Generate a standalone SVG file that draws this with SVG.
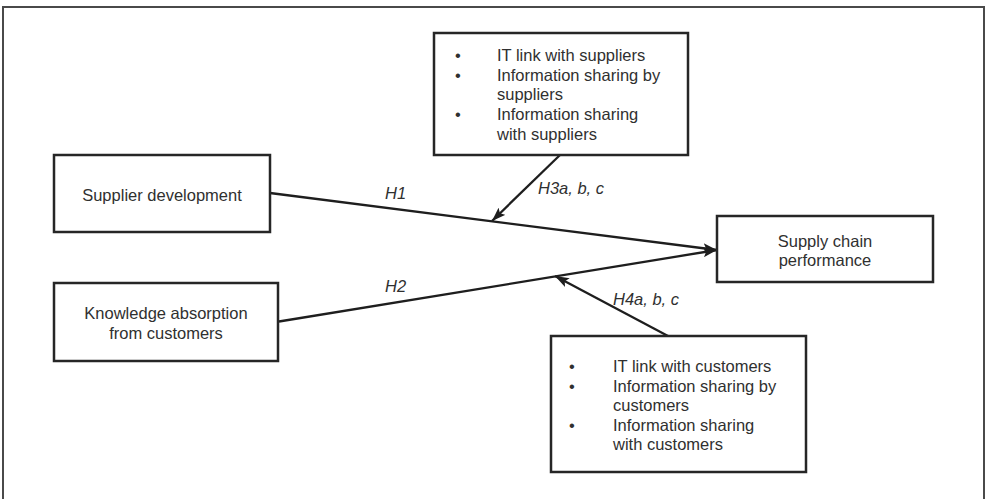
<svg xmlns="http://www.w3.org/2000/svg" width="986" height="499" viewBox="0 0 986 499">
  <defs>
    <marker id="arrow" viewBox="0 0 14 10" refX="14" refY="5" markerWidth="14" markerHeight="10" markerUnits="userSpaceOnUse" orient="auto">
      <path d="M0,0 L14,5 L0,10 L3,5 Z" fill="#1e1e1e"/>
    </marker>
    <style>
      .frame { fill: none; stroke: #4a4a4a; stroke-width: 2; }
      .box { fill: #ffffff; stroke: #262626; stroke-width: 2.5; }
      .txt { font-family: "Liberation Sans", Arial, sans-serif; font-size: 16.5px; fill: #303030; }
      .mid { text-anchor: middle; }
      .lbl { font-family: "Liberation Sans", Arial, sans-serif; font-size: 16.5px; font-style: italic; fill: #303030; }
      .edge { fill: none; stroke: #1e1e1e; stroke-width: 2.3; marker-end: url(#arrow); }
    </style>
  </defs>

  <rect width="986" height="499" fill="#ffffff"/>
  <!-- open-bottomed page frame -->
  <path class="frame" d="M3,505 L3,7 L984,7 L984,505"/>

  <g id="connectors">
    <line class="edge" x1="270" y1="193" x2="717" y2="250"/>
    <line class="edge" x1="279" y1="321.5" x2="717" y2="250"/>
    <line class="edge" x1="560" y1="155" x2="492" y2="221"/>
    <line class="edge" x1="668" y1="336" x2="555" y2="276"/>
    <text class="lbl" x="385" y="199">H1</text>
    <text class="lbl" x="385" y="292">H2</text>
    <text class="lbl" x="538" y="194">H3a, b, c</text>
    <text class="lbl" x="613" y="305">H4a, b, c</text>
  </g>

  <g id="supplier-development">
    <rect class="box" x="54" y="155" width="216" height="77"/>
    <text class="txt mid" x="162" y="201">Supplier development</text>
  </g>

  <g id="knowledge-absorption">
    <rect class="box" x="54" y="283" width="224" height="78"/>
    <text class="txt mid" x="166" y="319">Knowledge absorption</text>
    <text class="txt mid" x="166" y="339">from customers</text>
  </g>

  <g id="supply-chain-performance">
    <rect class="box" x="717" y="216" width="216" height="66"/>
    <text class="txt mid" x="825" y="247">Supply chain</text>
    <text class="txt mid" x="825" y="266">performance</text>
  </g>

  <g id="supplier-integration">
    <rect class="box" x="434" y="33" width="254" height="122"/>
    <text class="txt" x="455" y="61">•</text>
    <text class="txt" x="497" y="61">IT link with suppliers</text>
    <text class="txt" x="455" y="81">•</text>
    <text class="txt" x="497" y="81">Information sharing by</text>
    <text class="txt" x="497" y="100">suppliers</text>
    <text class="txt" x="455" y="120">•</text>
    <text class="txt" x="497" y="120">Information sharing</text>
    <text class="txt" x="497" y="140">with suppliers</text>
  </g>

  <g id="customer-integration">
    <rect class="box" x="551" y="336" width="255" height="136"/>
    <text class="txt" x="569" y="372">•</text>
    <text class="txt" x="613" y="372">IT link with customers</text>
    <text class="txt" x="569" y="391.5">•</text>
    <text class="txt" x="613" y="391.5">Information sharing by</text>
    <text class="txt" x="613" y="411">customers</text>
    <text class="txt" x="569" y="430.5">•</text>
    <text class="txt" x="613" y="430.5">Information sharing</text>
    <text class="txt" x="613" y="450">with customers</text>
  </g>
</svg>
